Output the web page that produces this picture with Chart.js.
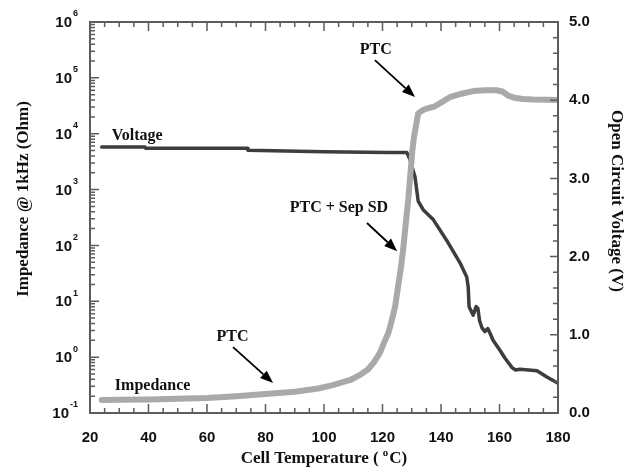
<!DOCTYPE html>
<html>
<head>
<meta charset="utf-8">
<title>Impedance and OCV vs. cell temperature</title>
<script src="https://cdn.jsdelivr.net/npm/chart.js@4/dist/chart.umd.min.js"></script>
<style>
  html, body { margin: 0; padding: 0; background: #ffffff; }
  canvas { display: block; }
</style>
</head>
<body>
<canvas id="chart" width="631" height="476"></canvas>
<script>
// Impedance at 1 kHz (Ohm) against cell temperature (deg C)
const impTemp = [24, 30, 40, 50, 60, 70, 80, 90, 98, 103, 109, 112, 115, 117, 119.1, 120.5, 122,
  123.2, 124.3, 125.3, 126.3, 127.0, 127.6, 128.2, 128.8, 129.5, 130.2, 130.8, 131.4, 132.2,
  133.3, 134.5, 137.9, 140, 143, 147, 151, 155, 159, 161, 163, 165, 168, 171.5, 176, 180];
const impedance = [0.171, 0.172, 0.175, 0.18, 0.186, 0.2, 0.218, 0.24, 0.275, 0.315, 0.39, 0.47,
  0.6, 0.8, 1.19, 1.8, 2.7, 4.6, 8, 18, 40, 80, 160, 330, 650, 1800, 5000, 9000, 13500, 23000,
  25500, 27500, 31000, 36000, 45000, 52000, 58000, 60000, 60000, 57000, 48000, 44000, 42000,
  41000, 40500, 40000];

// Open circuit voltage (V) against cell temperature (deg C)
const voltTemp = [24, 38.8, 39, 73.7, 74, 100, 122, 128.3, 129.4, 131.1, 132.2, 133.9, 137.4,
  141.9, 146.5, 148.8, 149.3, 149.6, 151, 152, 152.6, 153.2, 154, 155, 156, 157, 157.8, 160.2,
  161.9, 164.3, 165.5, 167, 170, 172.8, 176.2, 180];
const voltage = [3.40, 3.40, 3.385, 3.385, 3.36, 3.34, 3.33, 3.33, 3.24, 3.02, 2.71, 2.60, 2.47,
  2.21, 1.92, 1.74, 1.61, 1.36, 1.25, 1.36, 1.34, 1.18, 1.09, 1.04, 1.08, 1.00, 0.93, 0.80,
  0.70, 0.58, 0.55, 0.56, 0.55, 0.54, 0.46, 0.38];

// Axis ticks
const tempTicks = [20, 40, 60, 80, 100, 120, 140, 160, 180];
const impExponents = [-1, 0, 1, 2, 3, 4, 5, 6];
const voltTicks = [0, 1, 2, 3, 4, 5];

// Text labels placed in data coordinates (temperature, impedance)
const noteText = ['Voltage', 'Impedance', 'PTC', 'PTC', 'PTC + Sep SD'];
const noteTemp = [27.4, 28.5, 68.7, 117.7, 105.1];
const noteImp = [9100, 0.304, 2.32, 315000, 468];
const noteAlign = ['left', 'left', 'center', 'center', 'center'];

// Arrows: tail and head in data coordinates (temperature, impedance)
const arrowFromTemp = [68.9, 117.4, 114.7];
const arrowFromImp = [1.51, 208000, 252];
const arrowToTemp = [82.6, 131.1, 125];
const arrowToImp = [0.344, 45400, 79];

const SERIF = '"Liberation Serif", "Times New Roman", serif';
const SANS = '"Liberation Sans", Arial, sans-serif';
const AXIS_COLOR = '#5c5c5c';
const TEXT_COLOR = '#111111';

const overlay = {
  id: 'overlay',
  afterDraw(chart) {
    const { ctx, chartArea: a, scales } = chart;
    const sx = scales.x, sy = scales.y, sv = scales.y1;
    ctx.save();

    // plot frame
    ctx.strokeStyle = AXIS_COLOR;
    ctx.lineWidth = 2;
    ctx.strokeRect(a.left, a.top, a.right - a.left, a.bottom - a.top);

    // inward tick marks
    ctx.lineWidth = 1.5;
    ctx.beginPath();
    for (let v = 20; v <= 180; v += 5) {
      const px = sx.getPixelForValue(v);
      const len = v % 20 === 0 ? 9 : 5;
      ctx.moveTo(px, a.bottom); ctx.lineTo(px, a.bottom - len);
      ctx.moveTo(px, a.top); ctx.lineTo(px, a.top + len);
    }
    for (let e = -1; e <= 5; e++) {
      for (let m = 1; m <= 9; m++) {
        const py = sy.getPixelForValue(m * Math.pow(10, e));
        const len = m === 1 ? 9 : 5;
        ctx.moveTo(a.left, py); ctx.lineTo(a.left + len, py);
      }
    }
    for (let k = 0; k <= 25; k++) {
      const py = sv.getPixelForValue(k * 0.2);
      const len = k % 5 === 0 ? 8 : 5;
      ctx.moveTo(a.right, py); ctx.lineTo(a.right - len, py);
    }
    ctx.stroke();

    // log tick labels: 10 with superscript exponent
    ctx.fillStyle = TEXT_COLOR;
    ctx.textBaseline = 'middle';
    ctx.textAlign = 'left';
    const rightEdge = a.left - 12;
    impExponents.forEach(e => {
      const py = sy.getPixelForValue(Math.pow(10, e));
      ctx.font = 'bold 9px ' + SANS;
      const expStr = String(e);
      const we = ctx.measureText(expStr).width;
      ctx.font = 'bold 15px ' + SANS;
      const wb = ctx.measureText('10').width;
      const x0 = rightEdge - we - wb - 1;
      ctx.fillText('10', x0, py + 1);
      ctx.font = 'bold 9px ' + SANS;
      ctx.fillText(expStr, x0 + wb + 1, py - 8);
    });

    // axis titles
    ctx.font = 'bold 17px ' + SERIF;
    ctx.fillStyle = TEXT_COLOR;
    ctx.textAlign = 'center';
    ctx.save();
    ctx.translate(24, 199);
    ctx.rotate(-Math.PI / 2);
    ctx.fillText('Impedance @ 1kHz (Ohm)', 0, 0);
    ctx.restore();
    ctx.save();
    ctx.translate(616, 201);
    ctx.rotate(Math.PI / 2);
    ctx.fillText('Open Circuit Voltage (V)', 0, 0);
    ctx.restore();

    // x title with superscript degree sign
    const part1 = 'Cell Temperature ( ', part3 = 'C)';
    ctx.font = 'bold 17px ' + SERIF;
    const w1 = ctx.measureText(part1).width, w3 = ctx.measureText(part3).width;
    ctx.font = 'bold 11px ' + SERIF;
    const w2 = ctx.measureText('o').width + 1;
    const cx = (a.left + a.right) / 2;
    let tx = cx - (w1 + w2 + w3) / 2;
    const ty = 459;
    ctx.textAlign = 'left';
    ctx.font = 'bold 17px ' + SERIF;
    ctx.fillText(part1, tx, ty);
    ctx.font = 'bold 11px ' + SERIF;
    ctx.fillText('o', tx + w1, ty - 6);
    ctx.font = 'bold 17px ' + SERIF;
    ctx.fillText(part3, tx + w1 + w2, ty);

    // annotation text
    ctx.font = 'bold 16px ' + SERIF;
    noteText.forEach((t, i) => {
      ctx.textAlign = noteAlign[i];
      ctx.fillText(t, sx.getPixelForValue(noteTemp[i]), sy.getPixelForValue(noteImp[i]));
    });

    // arrows
    ctx.strokeStyle = '#000000';
    ctx.fillStyle = '#000000';
    ctx.lineWidth = 1.8;
    arrowFromTemp.forEach((_, i) => {
      const x1 = sx.getPixelForValue(arrowFromTemp[i]);
      const y1 = sy.getPixelForValue(arrowFromImp[i]);
      const x2 = sx.getPixelForValue(arrowToTemp[i]);
      const y2 = sy.getPixelForValue(arrowToImp[i]);
      const ang = Math.atan2(y2 - y1, x2 - x1);
      const hl = 13, hw = 5;
      const bx = x2 - hl * Math.cos(ang), by = y2 - hl * Math.sin(ang);
      ctx.beginPath();
      ctx.moveTo(x1, y1); ctx.lineTo(bx, by);
      ctx.stroke();
      ctx.beginPath();
      ctx.moveTo(x2, y2);
      ctx.lineTo(bx + hw * Math.sin(ang), by - hw * Math.cos(ang));
      ctx.lineTo(bx - hw * Math.sin(ang), by + hw * Math.cos(ang));
      ctx.closePath();
      ctx.fill();
    });

    ctx.restore();
  }
};

new Chart(document.getElementById('chart'), {
  type: 'line',
  data: {
    datasets: [
      {
        label: 'Impedance',
        data: impTemp.map((t, i) => ({ x: t, y: impedance[i] })),
        yAxisID: 'y',
        borderColor: '#a9a9a9',
        borderWidth: 6,
        borderCapStyle: 'round',
        borderJoinStyle: 'round',
        pointRadius: 0,
        tension: 0
      },
      {
        label: 'Voltage',
        data: voltTemp.map((t, i) => ({ x: t, y: voltage[i] })),
        yAxisID: 'y1',
        borderColor: '#3d3d3d',
        borderWidth: 3.5,
        borderCapStyle: 'round',
        borderJoinStyle: 'round',
        pointRadius: 0,
        tension: 0
      }
    ]
  },
  options: {
    responsive: false,
    animation: false,
    devicePixelRatio: 1,
    layout: { padding: { top: 22, left: 0, right: 0, bottom: 0 } },
    plugins: { legend: { display: false }, tooltip: { enabled: false } },
    scales: {
      x: {
        type: 'linear',
        min: 20, max: 180,
        afterBuildTicks: s => { s.ticks = tempTicks.map(v => ({ value: v })); },
        afterFit: s => { s.height = 63; },
        grid: { display: false, drawTicks: false },
        border: { display: false },
        ticks: {
          padding: 16,
          color: TEXT_COLOR,
          font: { family: SANS, size: 15, weight: 'bold' },
          maxRotation: 0
        }
      },
      y: {
        type: 'logarithmic',
        position: 'left',
        min: 0.1, max: 1e6,
        afterBuildTicks: s => { s.ticks = impExponents.map(e => ({ value: Math.pow(10, e) })); },
        afterFit: s => { s.width = 90; },
        grid: { display: false, drawTicks: false },
        border: { display: false },
        ticks: { display: false }
      },
      y1: {
        type: 'linear',
        position: 'right',
        min: 0, max: 5,
        afterBuildTicks: s => { s.ticks = voltTicks.map(v => ({ value: v })); },
        afterFit: s => { s.width = 73; },
        grid: { display: false, drawTicks: false },
        border: { display: false },
        ticks: {
          padding: 11,
          color: TEXT_COLOR,
          font: { family: SANS, size: 15, weight: 'bold' },
          callback: v => Number(v).toFixed(1)
        }
      }
    }
  },
  plugins: [overlay]
});
</script>
</body>
</html>
